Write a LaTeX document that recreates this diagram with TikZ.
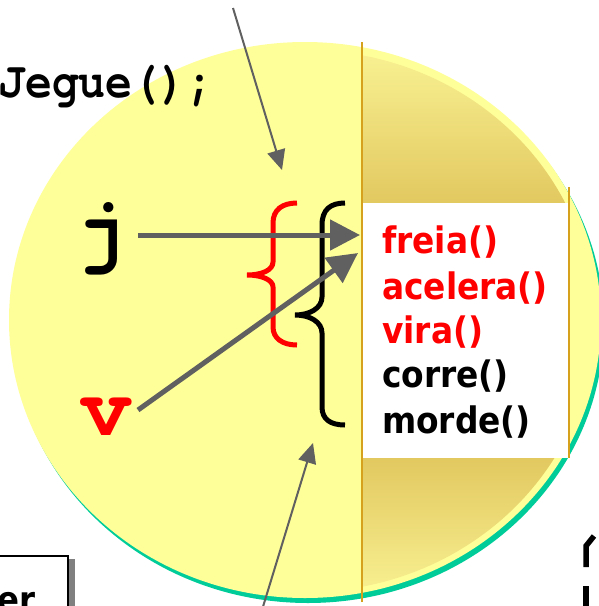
\documentclass[tikz,border=0pt]{standalone}
\usepackage{fontspec}
\usetikzlibrary{arrows.meta}
\IfFontExistsTF{TeX Gyre Cursor}{\newfontfamily\courfont{TeX Gyre Cursor}\newfontfamily\courcond{TeX Gyre Cursor}[FakeStretch=0.88]}{\newfontfamily\courfont{Liberation Mono}\newfontfamily\courcond{Liberation Mono}}
\IfFontExistsTF{DejaVu Sans Condensed}{\newfontfamily\methfont{DejaVu Sans Condensed}}{\newfontfamily\methfont{DejaVu Sans}[FakeStretch=0.9]}
\definecolor{ellyellow}{RGB}{255,255,153}
\definecolor{rimgreen}{RGB}{0,204,153}
\definecolor{goldA}{RGB}{226,200,95}
\definecolor{goldB}{RGB}{250,244,150}
\definecolor{linegold}{RGB}{214,162,30}
\definecolor{arrowgray}{RGB}{96,96,96}
\definecolor{shadowgray}{RGB}{128,128,128}
\begin{document}
\begin{tikzpicture}[x=1pt,y=-1pt,
  thickarrow/.style={draw=arrowgray, line width=5pt, -{Triangle[length=30pt,width=30pt]}},
  thinarrow/.style={draw=arrowgray, line width=2pt, -{Triangle[length=20pt,width=18pt]}},
  bracepath/.style={line width=5pt},
  method/.style={font=\methfont\bfseries\fontsize{36.5pt}{36.5pt}\selectfont, anchor=base west, inner sep=0pt},
  codesmall/.style={font=\courcond\bfseries\fontsize{51pt}{51pt}\selectfont, anchor=base west, inner sep=0pt},
  codebig/.style={font=\courfont\bfseries\fontsize{86pt}{86pt}\selectfont, anchor=base, inner sep=0pt},
  goldline/.style={draw=linegold, line width=2pt}
]
\useasboundingbox (0,0) rectangle (599,606);
% ellipse with green rim
\fill[rimgreen] (308,325) ellipse [x radius=296, y radius=278];
\fill[ellyellow] (305,320) ellipse [x radius=296, y radius=278];
% gold band
\begin{scope}
  \clip (305,321) ellipse [x radius=289, y radius=271];
  \shade[top color=goldB, bottom color=goldA] (362,40) rectangle (569,204);
  \shade[top color=goldA, bottom color=goldB] (362,457) rectangle (569,606);
\end{scope}
% white method box
\node (mbox) [fill=white, inner sep=0pt, minimum width=205pt, minimum height=255pt, anchor=north west] at (363,203) {};
\draw[goldline] (362,42) -- (362,602);
\draw[goldline] (569,187) -- (569,458);
% methods
\node[method, text=red] (m1) at (382,253) {freia()};
\node[method, text=red] (m2) at (382,299) {acelera()};
\node[method, text=red] (m3) at (382,343) {vira()};
\node[method] (m4) at (382,387) {corre()};
\node[method] (m5) at (382,433) {morde()};
% braces
\draw[bracepath, red] (297,203) .. controls (282,203) and (273,210) .. (273,223) -- (273,262)
  .. controls (273,270) and (262,275) .. (247,275) .. controls (262,275) and (273,280) .. (273,287)
  -- (273,327) .. controls (273,338) and (282,345) .. (297,345);
\draw[bracepath, black] (345,203) .. controls (330,203) and (322,210) .. (322,225) -- (322,297)
  .. controls (322,308) and (310,315) .. (295,315) .. controls (310,315) and (322,322) .. (322,333)
  -- (322,407) .. controls (322,419) and (330,425) .. (345,425);
% code texts
\node[codesmall] (jegue) at (-2,97) {Jegue();};
\node[codebig] (jvar) at (101,257) {j};
\node[codebig, text=red] (vvar) at (106,435) {v};
% arrows
\coordinate (jstart) at (138,235);
\coordinate (jtip) at (360,235);
\coordinate (vstart) at (138,410);
\coordinate (vtip) at (358,253);
\draw[thickarrow] (jstart) -- (jtip);
\draw[thickarrow] (vstart) -- (vtip);
\coordinate (topstart) at (233,8);
\coordinate (toptip) at (282,170);
\coordinate (botstart) at (262,610);
\coordinate (bottip) at (313,443);
\draw[thinarrow] (topstart) -- (toptip);
\draw[thinarrow] (botstart) -- (bottip);
% bottom-left box
\fill[shadowgray] (-5,559) rectangle (75,620);
\node (ebox) [draw, line width=2pt, fill=white, inner sep=0pt, anchor=north east, minimum width=90pt, minimum height=70pt] at (69,555) {};
\node[font=\methfont\bfseries\fontsize{36pt}{36pt}\selectfont, anchor=base east, inner sep=0pt] (etext) at (36,612) {er};
% bottom-right mark
\draw[line width=5.5pt] (594,536) -- (586,546) -- (586,567);
\draw[line width=5.5pt] (586,586) -- (586,610);
\end{tikzpicture}
\end{document}
